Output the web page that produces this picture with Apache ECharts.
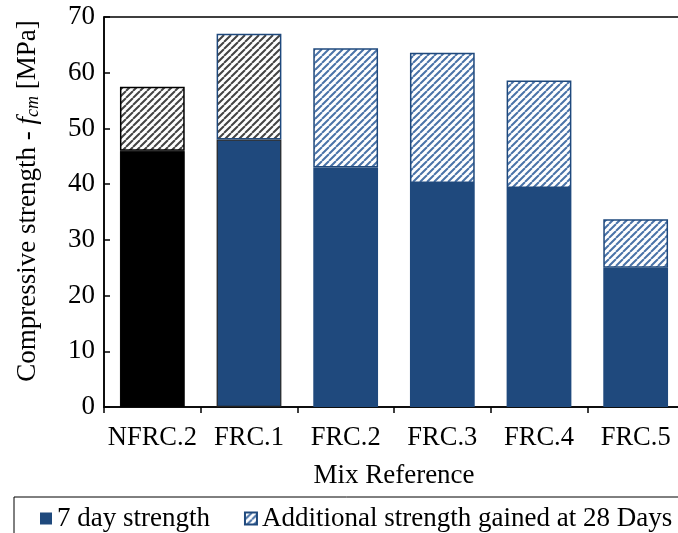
<!DOCTYPE html>
<html>
<head>
<meta charset="utf-8">
<script src="https://cdn.jsdelivr.net/npm/echarts@6/dist/echarts.min.js"></script>
<style>html,body{margin:0;padding:0;background:#fff;}#c{width:678px;height:533px;}</style>
</head>
<body>
<div id="c"></div>
<script>
const categories = ['NFRC.2', 'FRC.1', 'FRC.2', 'FRC.3', 'FRC.4', 'FRC.5'];
const strength7Day = [46, 48, 43, 40.2, 39.3, 25];
const additional28Day = [11.5, 19, 21.4, 23.4, 19.3, 8.7];
const yTicks = [0, 10, 20, 30, 40, 50, 60, 70];

const FONT = '"Liberation Serif", "Times New Roman", serif';
const BLUE = '#1f497d';

function hatch(color) {
  const s = 7;
  const c = document.createElement('canvas');
  c.width = s; c.height = s;
  const g = c.getContext('2d');
  g.fillStyle = '#fff';
  g.fillRect(0, 0, s, s);
  g.strokeStyle = color;
  g.lineWidth = 2;
  g.beginPath();
  for (let k = -1; k <= 1; k++) {
    g.moveTo(k * s, s);
    g.lineTo(k * s + s, 0);
  }
  g.stroke();
  return { image: c, repeat: 'repeat' };
}
const hatchBlue = hatch('#4a73a8');
const hatchGray = hatch('#444');

const chart = echarts.init(document.getElementById('c'), null, { renderer: 'canvas' });

const bottomData = strength7Day.map((v, i) => {
  if (i === 0) return { value: v, itemStyle: { color: '#000', borderColor: '#000', borderWidth: 1 } };
  if (i === 1) return { value: v, itemStyle: { color: BLUE, borderColor: '#222', borderWidth: 1.2 } };
  return v;
});
const topData = additional28Day.map((v, i) => {
  if (i === 0) return { value: v, itemStyle: { color: hatchGray, borderColor: '#000', borderWidth: 1.5 } };
  if (i === 1) return { value: v, itemStyle: { color: hatchGray, borderColor: BLUE, borderWidth: 1.5 } };
  return v;
});

chart.setOption({
  animation: false,
  backgroundColor: '#fff',
  grid: { left: 104, top: 17, height: 390, width: 580, outerBoundsMode: 'none', containLabel: false,
          show: true, borderColor: '#000', borderWidth: 1.5 },
  legend: {
    left: 14, top: 497, width: 700,
    padding: [8, 20, 20, 26],
    borderColor: '#000', borderWidth: 1,
    icon: 'rect',
    itemWidth: 12, itemHeight: 12, itemGap: 34,
    textStyle: { fontFamily: FONT, fontSize: 27, color: '#000' },
    data: ['7 day strength', 'Additional strength gained at 28 Days']
  },
  xAxis: {
    type: 'category',
    data: categories,
    name: 'Mix Reference',
    nameLocation: 'middle',
    nameGap: 55,
    nameTextStyle: { fontFamily: FONT, fontSize: 27, color: '#000' },
    axisLine: { lineStyle: { color: '#000', width: 1.5 } },
    axisTick: { show: true, length: 6, inside: false, lineStyle: { color: '#000', width: 1.5 } },
    axisLabel: { fontFamily: FONT, fontSize: 26.5, color: '#000', margin: 18, interval: 0 }
  },
  yAxis: {
    type: 'value',
    min: yTicks[0], max: yTicks[yTicks.length - 1], interval: 10,
    name: '{a|Compressive strength - }{i|f}{s|cm}{a| [MPa]}',
    nameLocation: 'middle',
    nameGap: 62,
    nameTextStyle: {
      fontFamily: FONT, fontSize: 27, color: '#000',
      padding: [0, 0, 0, 22],
      rich: {
        a: { fontFamily: FONT, fontSize: 27, color: '#000' },
        i: { fontFamily: FONT, fontSize: 27, color: '#000', fontStyle: 'italic' },
        s: { fontFamily: FONT, fontSize: 18, color: '#000', fontStyle: 'italic', padding: [10, 0, 0, 0] }
      }
    },
    axisLine: { show: true, lineStyle: { color: '#000', width: 1.5 } },
    axisTick: { show: true, inside: true, length: 6, lineStyle: { color: '#000', width: 1.5 } },
    axisLabel: { fontFamily: FONT, fontSize: 27, color: '#000', margin: 9 },
    splitLine: { show: false }
  },
  series: [
    {
      name: '7 day strength',
      type: 'bar', stack: 'total',
      barCategoryGap: '33%',
      itemStyle: { color: BLUE },
      data: bottomData
    },
    {
      name: 'Additional strength gained at 28 Days',
      type: 'bar', stack: 'total',
      barCategoryGap: '33%',
      itemStyle: { color: hatchBlue, borderColor: BLUE, borderWidth: 1.5 },
      data: topData
    }
  ]
});
</script>
</body>
</html>
